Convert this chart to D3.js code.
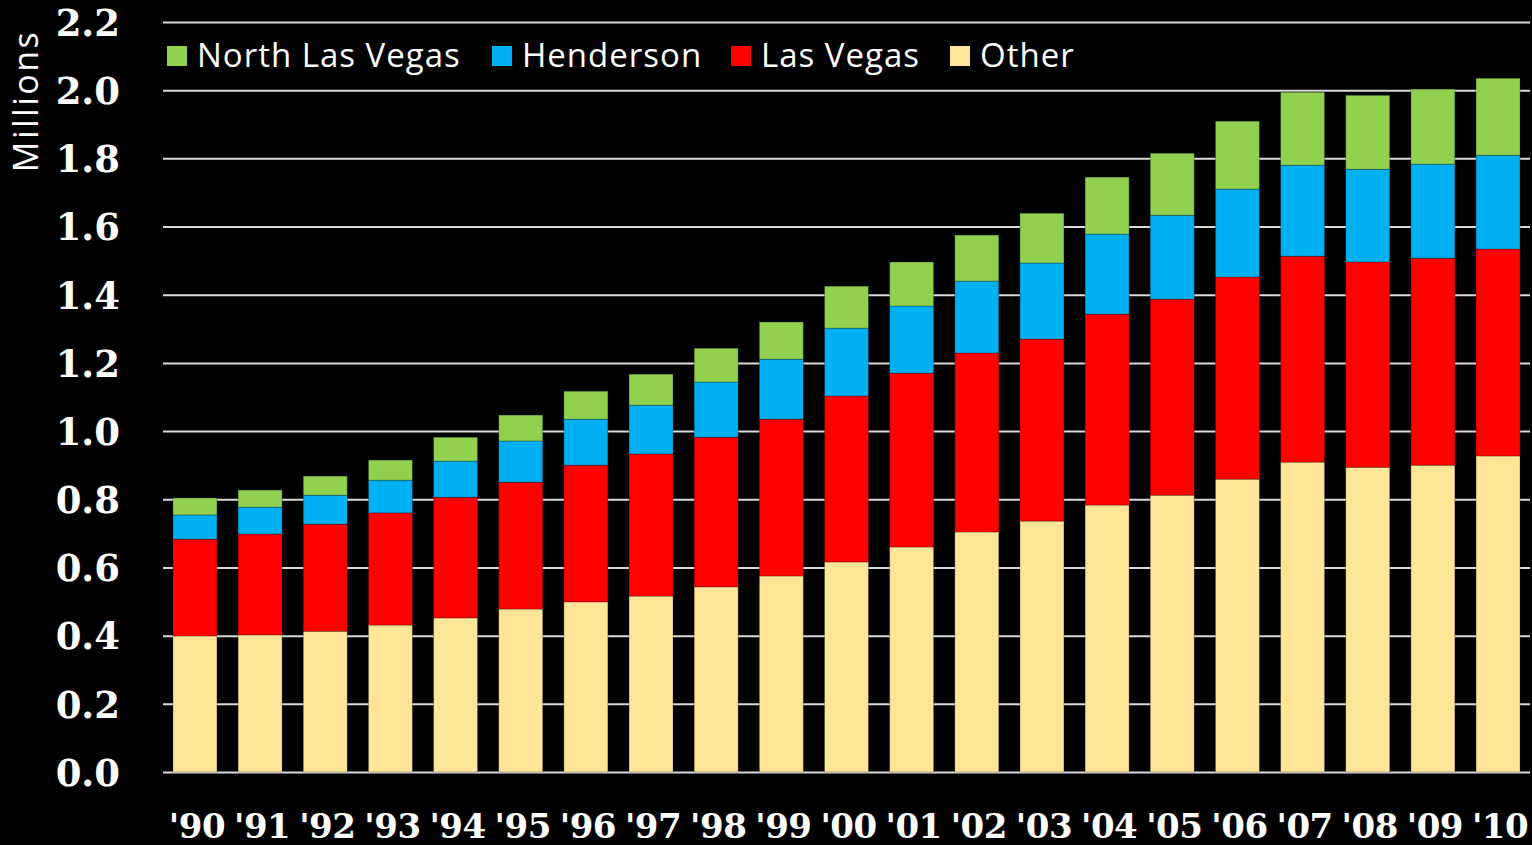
<!DOCTYPE html>
<html><head><meta charset="utf-8">
<script src="https://cdn.jsdelivr.net/npm/d3@7"></script>
<style>
html,body{margin:0;padding:0;background:#000;}
svg{display:block;}
</style></head>
<body>
<svg id="chart" width="1532" height="845"></svg>
<script>
const years = ["'90","'91","'92","'93","'94","'95","'96","'97","'98","'99","'00","'01","'02","'03","'04","'05","'06","'07","'08","'09","'10"];
const other = [0.399,0.402,0.413,0.431,0.452,0.478,0.499,0.516,0.543,0.575,0.616,0.660,0.704,0.736,0.783,0.812,0.859,0.909,0.894,0.900,0.927];
const lasVegas = [0.284,0.296,0.314,0.329,0.354,0.372,0.401,0.417,0.439,0.460,0.487,0.510,0.525,0.534,0.560,0.575,0.593,0.604,0.602,0.607,0.607];
const henderson = [0.071,0.079,0.085,0.096,0.106,0.121,0.135,0.143,0.162,0.176,0.199,0.197,0.211,0.223,0.235,0.246,0.258,0.267,0.272,0.276,0.275];
const northLasVegas = [0.050,0.050,0.056,0.059,0.070,0.076,0.082,0.091,0.099,0.109,0.123,0.129,0.135,0.146,0.167,0.182,0.199,0.214,0.217,0.220,0.226];
const yTicks = [0,0.2,0.4,0.6,0.8,1.0,1.2,1.4,1.6,1.8,2.0,2.2];
const seriesNames = ["Other","Las Vegas","Henderson","North Las Vegas"];
const legendOrder = ["North Las Vegas","Henderson","Las Vegas","Other"];
const colors = {"Other":"#FFE597","Las Vegas":"#FF0000","Henderson":"#00B0F0","North Las Vegas":"#92D050"};

(function(){
const seriesData = {"Other":other,"Las Vegas":lasVegas,"Henderson":henderson,"North Las Vegas":northLasVegas};
const table = years.map((yr,i)=>{const r={year:yr}; seriesNames.forEach(s=>r[s]=seriesData[s][i]); return r;});
const stacked = d3.stack().keys(seriesNames)(table);

const svg = d3.select("#chart");
const pL=163, pR=1530, pT=22, pB=772;
const x = d3.scaleBand().domain(years).range([pL,pR]).paddingInner(0.325).paddingOuter(0.153);
const y = d3.scaleLinear().domain([0,2.2]).range([pB,pT]);

const sansFont = "'Open Sans', 'DejaVu Sans', sans-serif";
const serifBold = "'DejaVu Serif', serif";

const yAxis = d3.axisLeft(y).tickValues(yTicks).tickSize(-(pR-pL)).tickFormat(d=>d3.format(".1f")(d)).tickPadding(43);
const gy = svg.append("g").attr("transform",`translate(${pL},0)`).call(yAxis);
gy.select(".domain").remove();
gy.selectAll(".tick line").attr("stroke","#d9d9d9").attr("stroke-width",2);
gy.selectAll(".tick text").attr("fill","#fff").attr("font-family",serifBold).attr("font-weight","bold").attr("font-size",37).attr("dy","0.36em");

svg.append("g").selectAll("g").data(stacked).join("g")
  .attr("fill",d=>colors[d.key])
  .selectAll("rect").data(d=>d).join("rect")
  .attr("x",d=>x(d.data.year))
  .attr("width",x.bandwidth())
  .attr("y",d=>y(d[1]))
  .attr("height",d=>y(d[0])-y(d[1]))
  .attr("stroke","rgba(0,0,0,0.25)").attr("stroke-width",1);

const xAxis = d3.axisBottom(x).tickSize(0).tickPadding(0);
const gx = svg.append("g").attr("transform",`translate(0,${pB})`).call(xAxis);
gx.select(".domain").remove();
gx.selectAll(".tick text").attr("fill","#fff").attr("font-family",serifBold).attr("font-weight","bold").attr("font-size",34).attr("letter-spacing",-0.5).attr("y",66).attr("dy",0).attr("dx",2);

const legendX = [167,492,731,950];
const lg = svg.append("g");
legendOrder.forEach((name,i)=>{
  lg.append("rect").attr("x",legendX[i]).attr("y",46).attr("width",20).attr("height",20).attr("fill",colors[name]);
  lg.append("text").attr("x",legendX[i]+30).attr("y",67).text(name)
    .attr("fill","#fff").attr("font-family",sansFont).attr("font-size",33).attr("letter-spacing",1);
});

svg.append("text").attr("transform","translate(38,101) rotate(-90)").attr("text-anchor","middle")
  .text("Millions").attr("fill","#fff").attr("font-family",sansFont).attr("font-size",34).attr("letter-spacing",2.5);
})();
</script>
</body></html>
